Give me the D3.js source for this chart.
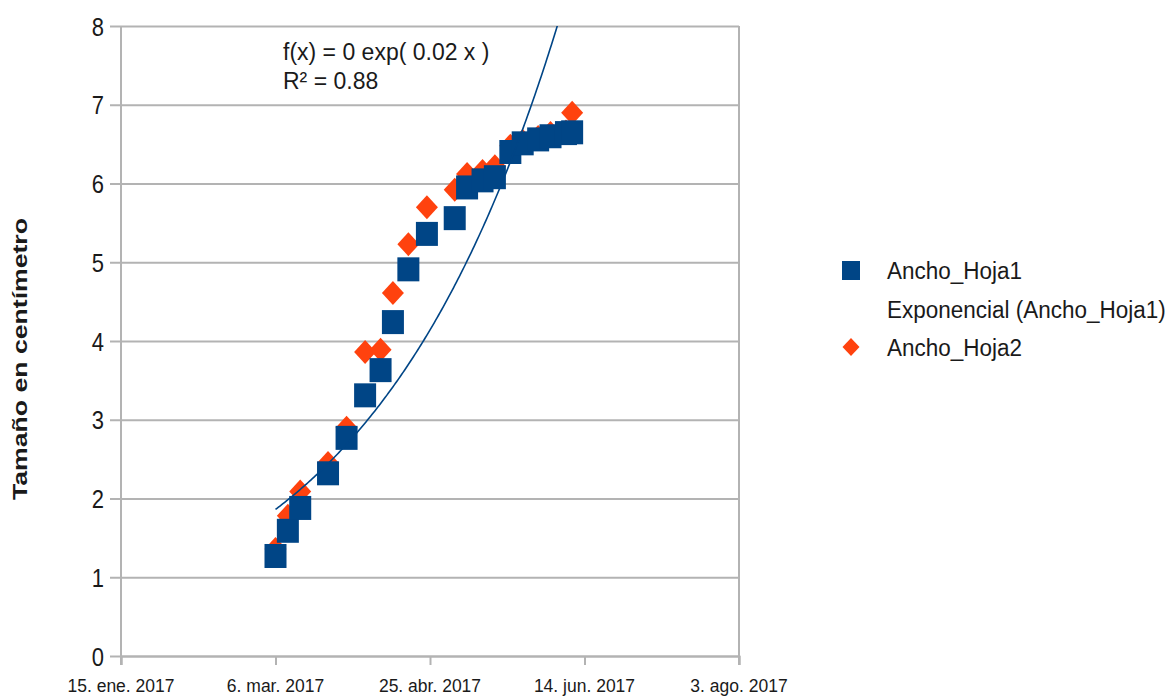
<!DOCTYPE html>
<html>
<head>
<meta charset="utf-8">
<script src="https://cdn.jsdelivr.net/npm/d3@7"></script>
<style>
  html, body { margin: 0; padding: 0; background: #ffffff; }
  svg { display: block; }
  text { font-family: "Liberation Sans", Arial, sans-serif; fill: #1a1a1a; }
</style>
</head>
<body>
<svg id="chart" width="1174" height="696"></svg>
<script>
// ---- data ----
const dates = ["2017-03-06","2017-03-10","2017-03-14","2017-03-23","2017-03-29",
  "2017-04-04","2017-04-09","2017-04-13","2017-04-18","2017-04-24",
  "2017-05-03","2017-05-07","2017-05-12","2017-05-16","2017-05-21",
  "2017-05-25","2017-05-30","2017-06-03","2017-06-08","2017-06-10"];
const anchoHoja1 = [1.27,1.59,1.88,2.32,2.77,3.31,3.63,4.24,4.91,5.36,
  5.56,5.95,6.04,6.08,6.40,6.51,6.56,6.60,6.64,6.65];
const anchoHoja2 = [1.36,1.78,2.09,2.45,2.90,3.86,3.89,4.61,5.23,5.70,
  5.92,6.12,6.16,6.22,6.48,6.54,6.59,6.64,6.66,6.90];
const xTickDates = ["2017-01-15","2017-03-06","2017-04-25","2017-06-14","2017-08-03"];
const xTickLabels = ["15. ene. 2017","6. mar. 2017","25. abr. 2017","14. jun. 2017","3. ago. 2017"];
const yTicks = [0,1,2,3,4,5,6,7,8];
const seriesNames = ["Ancho_Hoja1","Exponencial (Ancho_Hoja1)","Ancho_Hoja2"];
const equationLines = ["f(x) = 0 exp( 0.02 x )","R² = 0.88"];
const yTitle = "Tamaño en centímetro";

// ---- setup ----
const parse = d3.utcParse("%Y-%m-%d");
const svg = d3.select("#chart");
const L = 121, R = 739, T = 26, B = 656;
const x = d3.scaleUtc().domain([parse(xTickDates[0]), parse(xTickDates[4])]).range([L, R]);
const y = d3.scaleLinear().domain([0, 8]).range([B, T]);
const blue = "#004586", orange = "#ff420e", grid = "#b3b3b3";

svg.append("rect").attr("width",1174).attr("height",696).attr("fill","#fff");

// gridlines + y ticks
const yAxis = d3.axisLeft(y).tickValues(yTicks).tickSize(-(R - L)).tickFormat("");
const gy = svg.append("g").attr("transform",`translate(${L},0)`).call(yAxis);
gy.select(".domain").remove();
gy.selectAll(".tick line").attr("stroke",grid).attr("stroke-width",2).attr("x1",-11);
// y labels
yTicks.forEach(v => {
  svg.append("g").attr("transform",`translate(104,${y(v)}) scale(1,1.2)`)
    .append("text").attr("text-anchor","end").attr("dy","0.36em")
    .attr("font-size",22).text(v);
});

// x axis ticks
const xAxis = d3.axisBottom(x).tickValues(xTickDates.map(parse)).tickSize(9).tickFormat("");
const gx = svg.append("g").attr("transform",`translate(0,${B})`).call(xAxis);
gx.select(".domain").attr("stroke",grid).attr("stroke-width",2);
gx.selectAll(".tick line").attr("stroke",grid).attr("stroke-width",2);
xTickDates.forEach((d,i) => {
  svg.append("text").attr("x", x(parse(d))).attr("y",686)
    .attr("text-anchor","middle").attr("dy","0.36em")
    .attr("font-size",17.5).text(xTickLabels[i]);
});
// left axis line and right border
svg.append("line").attr("x1",L).attr("x2",L).attr("y1",T).attr("y2",B+9).attr("stroke",grid).attr("stroke-width",2);
svg.append("line").attr("x1",R).attr("x2",R).attr("y1",T).attr("y2",B+9).attr("stroke",grid).attr("stroke-width",2);

// ---- exponential regression (ln y on days) for Ancho_Hoja1 ----
const t0 = parse(xTickDates[0]).getTime();
const days = dates.map(d => (parse(d).getTime() - t0) / 864e5);
const lny = anchoHoja1.map(Math.log);
const md = d3.mean(days), ml = d3.mean(lny);
const k = d3.sum(days, (d,i) => (d-md)*(lny[i]-ml)) / d3.sum(days, d => (d-md)*(d-md));
const lnA = ml - k*md;
const trend = d3.range(0, 201).map(i => {
  const dd = days[0] + (days[days.length-1]-days[0]) * i/200;
  return [new Date(t0 + dd*864e5), Math.exp(lnA + k*dd)];
});
svg.append("clipPath").attr("id","plotclip").append("rect")
  .attr("x",L).attr("y",T).attr("width",R-L).attr("height",B-T);

// ---- series 2 (diamonds) under series 1 ----
const diamond = (w,h) => `M0,${-h/2}L${w/2},0L0,${h/2}L${-w/2},0Z`;
svg.append("g").selectAll("path").data(anchoHoja2).join("path")
  .attr("transform",(v,i) => `translate(${x(parse(dates[i]))},${y(v)})`)
  .attr("d", diamond(22,24)).attr("fill",orange);

svg.append("g").selectAll("rect").data(anchoHoja1).join("rect")
  .attr("x",(v,i) => x(parse(dates[i])) - 11)
  .attr("y",v => y(v) - 12)
  .attr("width",22).attr("height",24).attr("fill",blue);

svg.append("path").datum(trend).attr("clip-path","url(#plotclip)")
  .attr("fill","none").attr("stroke",blue).attr("stroke-width",1.6)
  .attr("d", d3.line().x(d => x(d[0])).y(d => y(d[1])));

// equation
equationLines.forEach((s,i) => {
  svg.append("g").attr("transform",`translate(283,${51 + i*29}) scale(1,1.05)`)
    .append("text").attr("dy","0.36em").attr("font-size",23).text(s);
});

// y title
svg.append("text").attr("transform",`translate(20,359) rotate(-90)`)
  .attr("text-anchor","middle").attr("dy","0.36em")
  .attr("font-size",20).attr("font-weight","bold")
  .attr("textLength",282).attr("lengthAdjust","spacingAndGlyphs").text(yTitle);

// legend
const lg = svg.append("g");
lg.append("rect").attr("x",842).attr("y",261).attr("width",18).attr("height",19).attr("fill",blue);
lg.append("path").attr("transform","translate(851,347)").attr("d",diamond(17,18)).attr("fill",orange);
[270,309,347].forEach((yy,i) => {
  lg.append("g").attr("transform",`translate(887,${yy}) scale(1,1.05)`)
    .append("text").attr("dy","0.36em").attr("font-size",22.5).text(seriesNames[i]);
});
</script>
</body>
</html>
